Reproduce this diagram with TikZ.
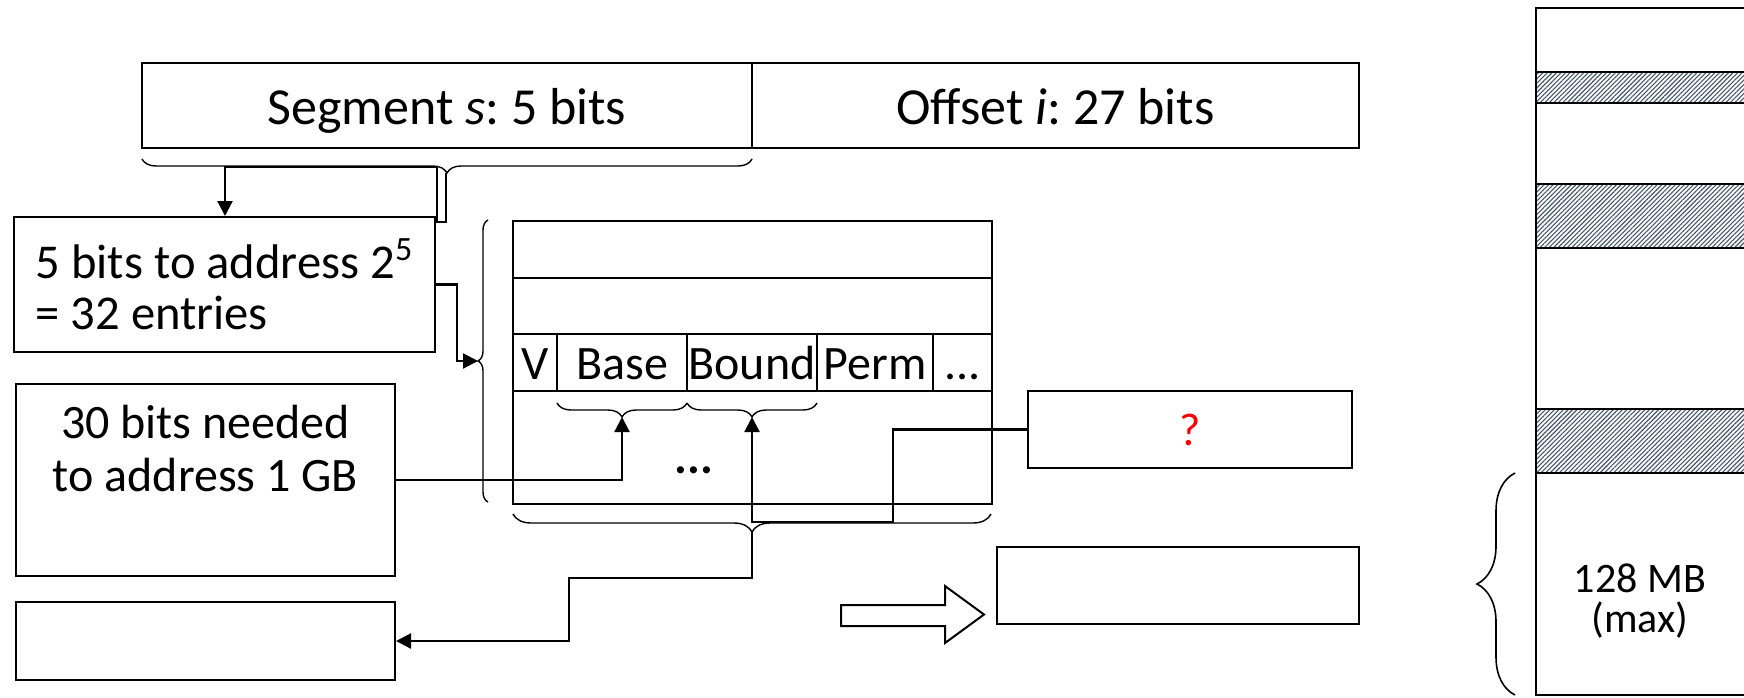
\documentclass[tikz,border=0pt]{standalone}
\usepackage{fontspec}
\setmainfont{Carlito}
\usetikzlibrary{arrows.meta, decorations.pathreplacing, patterns.meta}

\definecolor{hatchcol}{HTML}{44546A}
\frenchspacing

% font sizes used on the slide
\newcommand\segsize{\fontsize{26}{30}\selectfont}
\newcommand\lblsize{\fontsize{24.3}{25.5}\selectfont}
\newcommand\gbsize{\fontsize{24}{26.5}\selectfont}
\newcommand\cellsize{\fontsize{24}{26}\selectfont}

\tikzset{
  box/.style={draw, line width=1pt, inner sep=0pt},
  field/.style={box, minimum height=42.5pt, font=\segsize, text height=19.3pt, text depth=0pt},
  cell/.style={draw, line width=1.3pt, inner sep=0pt, font=\cellsize, text height=16.5pt, text depth=0pt},
  brc/.style={decorate, decoration={brace, amplitude=#1}, line width=0.7pt},
  conn/.style={line width=1.1pt},
  arr/.style={conn, -{Triangle[length=7.5pt, width=7.5pt]}},
  band/.style={draw, line width=1.4pt, pattern={Lines[angle=45, distance=1.6pt, line width=0.55pt]}, pattern color=hatchcol},
}

\begin{document}
\begin{tikzpicture}[x=0.5pt, y=-0.5pt]
\clip (0,0) rectangle (1744,697);

% ---- virtual address: segment and offset fields
\node[field, minimum width=305pt] (seg) at (447,105.5) {Segment \textit{s}: 5 bits};
\node[field, minimum width=303.5pt] (off) at (1055.5,105.5) {Offset \textit{i}: 27 bits};

% ---- explanation boxes on the left
\node[box, minimum width=210.5pt, minimum height=67.5pt, align=left, font=\lblsize] (bits) at (224.5,284.5) {5 bits to address 2\textsuperscript{5}\\= 32 entries};
\node[box, minimum width=189.5pt, minimum height=96pt] (gb) at (205.5,480) {};
\node[font=\gbsize, align=center, inner sep=0pt] (gbtext) at (205.5,449) {30 bits needed\\to address 1 GB};
\node[box, minimum width=189.5pt, minimum height=39pt] (res) at (205.5,641) {};

% ---- segment table
\node[cell, minimum width=239.5pt, minimum height=28.5pt] (row1) at (752.5,249.5) {};
\node[cell, minimum width=239.5pt, minimum height=28pt] (row2) at (752.5,306) {};
\node[cell, minimum width=22pt, minimum height=28.5pt] (cv) at (535,362.5) {V};
\node[cell, minimum width=65pt, minimum height=28.5pt] (cbase) at (622,362.5) {Base};
\node[cell, minimum width=65pt, minimum height=28.5pt] (cbound) at (752,362.5) {Bound};
\node[cell, minimum width=58pt, minimum height=28.5pt] (cperm) at (875,362.5) {Perm};
\node[cell, minimum width=29.5pt, minimum height=28.5pt] (cmore) at (962.5,362.5) {...};
\node[cell, minimum width=239.5pt, minimum height=56.5pt] (row4) at (752.5,447.5) {};
\node[font=\cellsize\bfseries, inner sep=0pt] (rowdots) at (694,470) {...};

% ---- result boxes on the right
\node[box, minimum width=162pt, minimum height=38.5pt, text=red, font=\fontsize{23}{26}\selectfont] (q) at (1190,429.5) {?};
\node[box, minimum width=181pt, minimum height=38.5pt] (out) at (1178,585.5) {};

% block arrow pointing at the lower result box
\draw[line width=1pt, fill=white] (841,605) -- (945,605) -- (945,586) -- (984,614.5) -- (945,643) -- (945,626) -- (841,626) -- cycle;

% ---- braces
\draw[brc=7pt] (752,159) -- (142,159);
\coordinate (segtip) at (446,173);
\draw[brc=5pt] (488,502) -- (488,220);
\coordinate (ttip) at (478,361);
\draw[brc=7pt] (687,403) -- (557,403);
\coordinate (basetip) at (622,417);
\draw[brc=7pt] (817,403) -- (687,403);
\coordinate (boundtip) at (752,417);
\draw[brc=9pt] (991,514) -- (513,514);
\coordinate (bottip) at (752,532);

% ---- connectors
\coordinate (segbend) at (225,167);
\draw[arr] (segtip) -- (446,222) -- (437,222) -- (437,167) -- (segbend) -- (segbend |- bits.north);
\draw[arr] (bits.east) -| (457,361) -- (ttip);
\draw[arr] (gb.east) -| (basetip);
\draw[arr] (q.west) -| (893,522) -| (boundtip);
\draw[arr] (bottip) |- (569,578) |- (res.east);

% ---- physical memory column with allocated segments
\draw[band] (1536,72) rectangle (1760,103);
\draw[band] (1536,184) rectangle (1760,248);
\draw[band] (1536,409) rectangle (1760,473);
\draw[line width=1.4pt] (1760,8) -- (1536,8) -- (1536,695) -- (1760,695);
\draw[brc=19pt, line width=0.8pt] (1515,695) -- (1515,473);
\node[font=\fontsize{21}{20}\selectfont, align=center] (memlbl) at (1640,601) {128 MB\\(max)};
\end{tikzpicture}
\end{document}
